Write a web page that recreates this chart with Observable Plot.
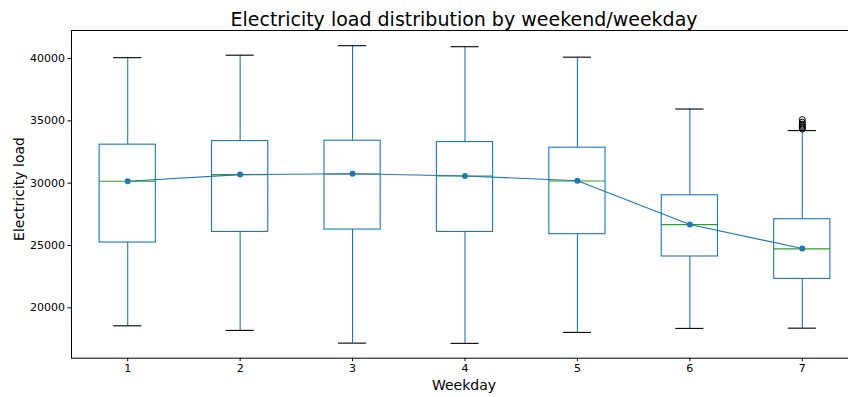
<!DOCTYPE html>
<html>
<head>
<meta charset="utf-8">
<script src="https://cdn.jsdelivr.net/npm/d3@7"></script>
<script src="https://cdn.jsdelivr.net/npm/@observablehq/plot@0.6"></script>
<style>
  html, body { margin: 0; padding: 0; background: #fff; overflow: hidden; width: 848px; height: 397px; }
  body { position: relative; font-family: "DejaVu Sans", sans-serif; color: #000; }
  #title { position: relative; height: 30px; width: 858px; box-sizing: border-box; padding-top: 10px;
    font-size: 19px; line-height: 1; }
  #title span { position: absolute; left: 464px; transform: translateX(-50%); white-space: nowrap; }
  #chart { width: 858px; }
  #chart svg { display: block; max-width: none !important; width: 858px; height: 367px; }
  .lbl { position: absolute; font-size: 14px; line-height: 1; white-space: nowrap; }
  #ylabel { left: 19px; top: 189px; transform: translate(-50%, -50%) rotate(-90deg); }
  #xlabel { left: 464px; top: 377.5px; transform: translateX(-50%); }
</style>
</head>
<body>
<div id="title"><span>Electricity load distribution by weekend/weekday</span></div>
<div id="chart"></div>
<div class="lbl" id="xlabel">Weekday</div>
<div class="lbl" id="ylabel">Electricity load</div>
<script>
// Weekday categories
const days = [1, 2, 3, 4, 5, 6, 7];
// Box statistics
const lowerWhisker = [18560, 18190, 17170, 17150, 18030, 18350, 18370];
const q1Values     = [25240, 26090, 26280, 26090, 25910, 24120, 22320];
const medianValues = [30150, 30690, 30740, 30580, 30180, 26680, 24730];
const q3Values     = [33090, 33380, 33410, 33300, 32850, 29030, 27110];
const upperWhisker = [40070, 40270, 41030, 40950, 40110, 35950, 34220];
// Means (dots joined by a line)
const meanValues   = [30160, 30690, 30760, 30580, 30200, 26690, 24760];
// Outliers for day 7
const outlierDay = 7;
const outlierValues = [34350, 34450, 34550, 34650, 34750, 34900, 35100];
// Tick labels
const xTicks = [1, 2, 3, 4, 5, 6, 7];
const yTicks = [20000, 25000, 30000, 35000, 40000];

const boxes = days.map((d, i) => ({
  day: d, lo: lowerWhisker[i], q1: q1Values[i], med: medianValues[i],
  q3: q3Values[i], hi: upperWhisker[i], mean: meanValues[i]
}));
const outliers = outlierValues.map(v => ({day: outlierDay, v}));

const blue = "#1f77b4", green = "#2ca02c";
const halfBox = 0.25, halfCap = 0.125;

const chart = Plot.plot({
  width: 858,
  height: 367,
  marginLeft: 71,
  marginRight: 0,
  marginTop: 0,
  marginBottom: 39.3,
  style: { fontFamily: "DejaVu Sans, sans-serif", fontSize: "11px", color: "#000", background: "#fff" },
  x: { type: "linear", domain: [0.5, 7.5] },
  y: { type: "linear", domain: [15960, 42250] },
  marks: [
    Plot.rect(boxes, { x1: d => d.day - halfBox, x2: d => d.day + halfBox, y1: "q1", y2: "q3",
      fill: "none", stroke: blue, strokeWidth: 1.1, inset: 0 }),
    Plot.ruleX(boxes, { x: "day", y1: "q3", y2: "hi", stroke: blue, strokeWidth: 1.1 }),
    Plot.ruleX(boxes, { x: "day", y1: "lo", y2: "q1", stroke: blue, strokeWidth: 1.1 }),
    Plot.ruleY(boxes, { y: "hi", x1: d => d.day - halfCap, x2: d => d.day + halfCap, stroke: "#000", strokeWidth: 1.1 }),
    Plot.ruleY(boxes, { y: "lo", x1: d => d.day - halfCap, x2: d => d.day + halfCap, stroke: "#000", strokeWidth: 1.1 }),
    Plot.ruleY(boxes, { y: "med", x1: d => d.day - halfBox, x2: d => d.day + halfBox, stroke: green, strokeWidth: 1.1 }),
    Plot.dot(outliers, { x: "day", y: "v", r: 3, fill: "none", stroke: "#000", strokeWidth: 1 }),
    Plot.line(boxes, { x: "day", y: "mean", stroke: blue, strokeWidth: 1.1 }),
    Plot.dot(boxes, { x: "day", y: "mean", r: 3, fill: blue, stroke: "none" }),
    Plot.frame({ stroke: "#000", strokeWidth: 1 }),
    Plot.axisX({ ticks: xTicks, tickSize: 3.5, tickPadding: 2.5, tickFormat: d => String(d), label: null }),
    Plot.axisY({ ticks: yTicks, tickSize: 3.5, tickPadding: 3, tickFormat: d => String(d), label: null })
  ]
});
document.getElementById("chart").appendChild(chart);
</script>
</body>
</html>
